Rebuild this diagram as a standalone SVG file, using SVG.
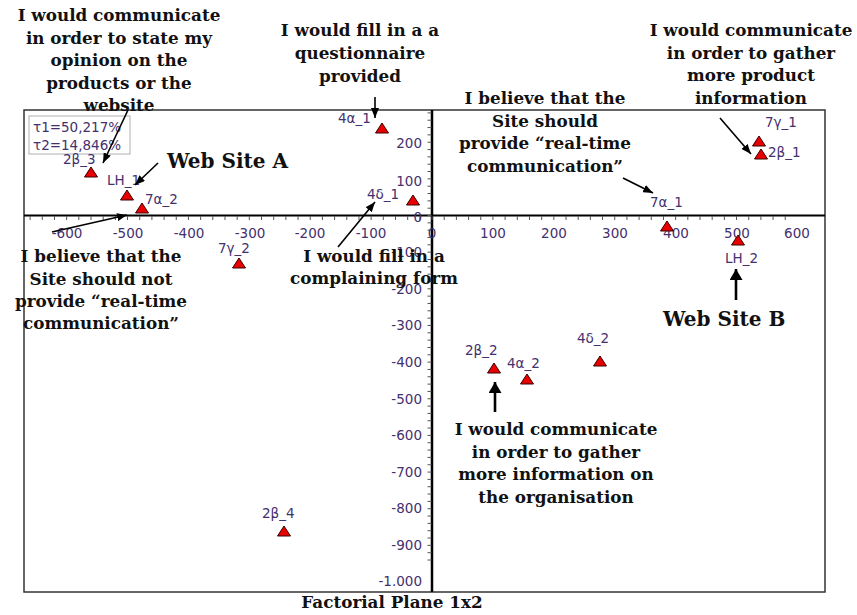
<svg xmlns="http://www.w3.org/2000/svg" width="857" height="615" viewBox="0 0 857 615">
<style>
.lbl{font-family:"DejaVu Sans","Verdana",sans-serif;font-size:13.5px;fill:#43306e}
.tk{font-family:"DejaVu Sans","Verdana",sans-serif;font-size:13.5px;fill:#43306e}
.ann{font-family:"DejaVu Serif","Liberation Serif",serif;font-size:16.8px;font-weight:bold;fill:#111;text-anchor:middle}
.big{font-family:"DejaVu Serif","Liberation Serif",serif;font-size:20px;font-weight:bold;fill:#111}
.tri{fill:#e80000;stroke:#3a0000;stroke-width:1}
.arr{stroke:#000;stroke-width:1.6;fill:none;marker-end:url(#ah)}
.arrb{stroke:#000;stroke-width:2.6;fill:none;marker-end:url(#ahb)}
</style>
<defs>
<marker id="ah" viewBox="0 0 10 8" refX="10" refY="4" markerWidth="10" markerHeight="8" markerUnits="userSpaceOnUse" orient="auto"><path d="M0,0 L10,4 L0,8 z" fill="#000"/></marker>
<marker id="ahb" viewBox="0 0 11 13" refX="11" refY="6.5" markerWidth="11" markerHeight="13" markerUnits="userSpaceOnUse" orient="auto"><path d="M0,0 L11,6.5 L0,13 z" fill="#000"/></marker>
<path id="t" class="tri" d="M0,-5 L6.5,5 L-6.5,5 z"/>
</defs>
<rect width="857" height="615" fill="#fff"/>
<g id="plot">
<rect x="24" y="110" width="801" height="482" fill="#fff" stroke="#333" stroke-width="1.5"/>
<line x1="24" y1="215.5" x2="825" y2="215.5" stroke="#000" stroke-width="2"/>
<line x1="432" y1="110" x2="432" y2="592" stroke="#000" stroke-width="2.5"/>
<path stroke="#555" stroke-width="1" fill="none" d="M30.1,216 v4 m12.18,-4 v4 m12.18,-4 v4 m12.18,-4 v4 m12.18,-4 v4 m12.18,-4 v4 m12.18,-4 v4 m12.18,-4 v4 m12.18,-4 v4 m12.18,-4 v4 m12.18,-4 v4 m12.18,-4 v4 m12.18,-4 v4 m12.18,-4 v4 m12.18,-4 v4 m12.18,-4 v4 m12.18,-4 v4 m12.18,-4 v4 m12.18,-4 v4 m12.18,-4 v4 m12.18,-4 v4 m12.18,-4 v4 m12.18,-4 v4 m12.18,-4 v4 m12.18,-4 v4 m12.18,-4 v4 m12.18,-4 v4 m12.18,-4 v4 m12.18,-4 v4 m12.18,-4 v4 m12.18,-4 v4 m12.18,-4 v4 m12.18,-4 v4 m12.18,-4 v4 m12.18,-4 v4 m12.18,-4 v4 m12.18,-4 v4 m12.18,-4 v4 m12.18,-4 v4 m12.18,-4 v4 m12.18,-4 v4 m12.18,-4 v4 m12.18,-4 v4 m12.18,-4 v4 m12.18,-4 v4 m12.18,-4 v4 m12.18,-4 v4 m12.18,-4 v4 m12.18,-4 v4 m12.18,-4 v4 m12.18,-4 v4 m12.18,-4 v4 m12.18,-4 v4 m12.18,-4 v4 m12.18,-4 v4 m12.18,-4 v4 m12.18,-4 v4 m12.18,-4 v4 m12.18,-4 v4 m12.18,-4 v4 m12.18,-4 v4 m12.18,-4 v4 m12.18,-4 v4"/>
<path stroke="#555" stroke-width="1" fill="none" d="M427.5,112.9 h4 m-4,7.33 h4 m-4,7.33 h4 m-4,7.33 h4 m-4,7.33 h4 m-4,7.33 h4 m-4,7.33 h4 m-4,7.33 h4 m-4,7.33 h4 m-4,7.33 h4 m-4,7.33 h4 m-4,7.33 h4 m-4,7.33 h4 m-4,7.33 h4 m-4,7.33 h4 m-4,7.33 h4 m-4,7.33 h4 m-4,7.33 h4 m-4,7.33 h4 m-4,7.33 h4 m-4,7.33 h4 m-4,7.33 h4 m-4,7.33 h4 m-4,7.33 h4 m-4,7.33 h4 m-4,7.33 h4 m-4,7.33 h4 m-4,7.33 h4 m-4,7.33 h4 m-4,7.33 h4 m-4,7.33 h4 m-4,7.33 h4 m-4,7.33 h4 m-4,7.33 h4 m-4,7.33 h4 m-4,7.33 h4 m-4,7.33 h4 m-4,7.33 h4 m-4,7.33 h4 m-4,7.33 h4 m-4,7.33 h4 m-4,7.33 h4 m-4,7.33 h4 m-4,7.33 h4 m-4,7.33 h4 m-4,7.33 h4 m-4,7.33 h4 m-4,7.33 h4 m-4,7.33 h4 m-4,7.33 h4 m-4,7.33 h4 m-4,7.33 h4 m-4,7.33 h4 m-4,7.33 h4 m-4,7.33 h4 m-4,7.33 h4 m-4,7.33 h4 m-4,7.33 h4 m-4,7.33 h4 m-4,7.33 h4 m-4,7.33 h4 m-4,7.33 h4"/>
<g class="tk" text-anchor="middle">
<text x="67" y="238">-600</text><text x="128" y="238">-500</text><text x="189" y="238">-400</text><text x="250" y="238">-300</text><text x="310" y="238">-200</text><text x="371" y="238">-100</text><text x="432" y="238">0</text><text x="493" y="238">100</text><text x="554" y="238">200</text><text x="615" y="238">300</text><text x="676" y="238">400</text><text x="737" y="238">500</text><text x="797" y="238">600</text>
</g>
<g class="tk" text-anchor="end">
<text x="422" y="148">200</text><text x="422" y="186">100</text><text x="422" y="222">0</text><text x="422" y="257">-100</text><text x="422" y="294">-200</text><text x="422" y="330">-300</text><text x="422" y="367">-400</text><text x="422" y="404">-500</text><text x="422" y="440">-600</text><text x="422" y="477">-700</text><text x="422" y="513">-800</text><text x="422" y="550">-900</text><text x="422" y="586">-1.000</text>
</g>
<g id="tau">
<rect x="29" y="116" width="101" height="38" fill="#fff" stroke="#b0b0b0" stroke-width="1"/>
<text class="lbl" x="33" y="132">τ1=50,217%</text>
<text class="lbl" x="33" y="150">τ2=14,846%</text>
</g>
</g>
<g id="p-2b3"><use href="#t" x="91" y="172"/><text class="lbl" x="63" y="164">2β_3</text></g>
<g id="p-lh1"><use href="#t" x="127" y="195"/><text class="lbl" x="107" y="185">LH_1</text></g>
<g id="p-7a2"><use href="#t" x="142" y="208"/><text class="lbl" x="145" y="204">7α_2</text></g>
<g id="p-4a1"><use href="#t" x="382" y="128"/><text class="lbl" x="338" y="123">4α_1</text></g>
<g id="p-4d1"><use href="#t" x="413" y="200"/><text class="lbl" x="367" y="199">4δ_1</text></g>
<g id="p-7a1"><use href="#t" x="667" y="226"/><text class="lbl" x="650" y="207">7α_1</text></g>
<g id="p-7g1"><use href="#t" x="759" y="141"/><text class="lbl" x="765" y="127">7γ_1</text></g>
<g id="p-2b1"><use href="#t" x="761" y="154"/><text class="lbl" x="768" y="157">2β_1</text></g>
<g id="p-7g2"><use href="#t" x="239" y="263"/><text class="lbl" x="218" y="253">7γ_2</text></g>
<g id="p-lh2"><use href="#t" x="738" y="240"/><text class="lbl" x="725" y="263">LH_2</text></g>
<g id="p-2b2"><use href="#t" x="494" y="368"/><text class="lbl" x="465" y="355">2β_2</text></g>
<g id="p-4a2"><use href="#t" x="527" y="379"/><text class="lbl" x="507" y="368">4α_2</text></g>
<g id="p-4d2"><use href="#t" x="600" y="361"/><text class="lbl" x="577" y="343">4δ_2</text></g>
<g id="p-2b4"><use href="#t" x="284" y="531"/><text class="lbl" x="262" y="518">2β_4</text></g>
<g id="ann-opinion" class="ann"><text x="119" y="21">I would communicate</text><text x="119" y="43.5">in order to state my</text><text x="119" y="66">opinion on the</text><text x="119" y="88.5">products or the</text><text x="119" y="111">website</text></g>
<g id="ann-questionnaire" class="ann"><text x="360" y="36">I would fill in a a</text><text x="360" y="59">questionnaire</text><text x="360" y="82">provided</text></g>
<g id="ann-product" class="ann"><text x="751" y="36">I would communicate</text><text x="751" y="58.5">in order to gather</text><text x="751" y="81">more product</text><text x="751" y="103.5">information</text></g>
<g id="ann-realtime" class="ann"><text x="545" y="104">I believe that the</text><text x="545" y="126.5">Site should</text><text x="545" y="149">provide “real-time</text><text x="545" y="171.5">communication”</text></g>
<g id="ann-notrealtime" class="ann"><text x="101" y="262">I believe that the</text><text x="101" y="284.5">Site should not</text><text x="101" y="307">provide “real-time</text><text x="101" y="329">communication”</text></g>
<g id="ann-complain" class="ann"><text x="374" y="262">I would fill in a</text><text x="374" y="284">complaining form</text></g>
<g id="ann-organisation" class="ann"><text x="556" y="435">I would communicate</text><text x="556" y="458">in order to gather</text><text x="556" y="480">more information on</text><text x="556" y="503">the organisation</text></g>
<g id="siteA"><text class="big" x="167" y="168">Web Site A</text></g>
<g id="siteB"><text class="big" x="663" y="326">Web Site B</text></g>
<g id="title"><text class="ann" x="392" y="608">Factorial Plane 1x2</text></g>
<g id="connectors">
<line class="arr" x1="128" y1="110" x2="103" y2="163"/>
<line class="arr" x1="158" y1="163" x2="135" y2="185"/>
<line class="arr" x1="52" y1="232" x2="127" y2="215"/>
<line class="arr" x1="338" y1="247" x2="375" y2="202"/>
<line class="arr" x1="375" y1="97" x2="375" y2="118"/>
<line class="arr" x1="623" y1="178" x2="653" y2="193"/>
<line class="arr" x1="720" y1="118" x2="751" y2="154"/>
<line class="arrb" x1="736" y1="300" x2="736" y2="269"/>
<line class="arrb" x1="495" y1="412" x2="495" y2="382"/>
</g>
</svg>
